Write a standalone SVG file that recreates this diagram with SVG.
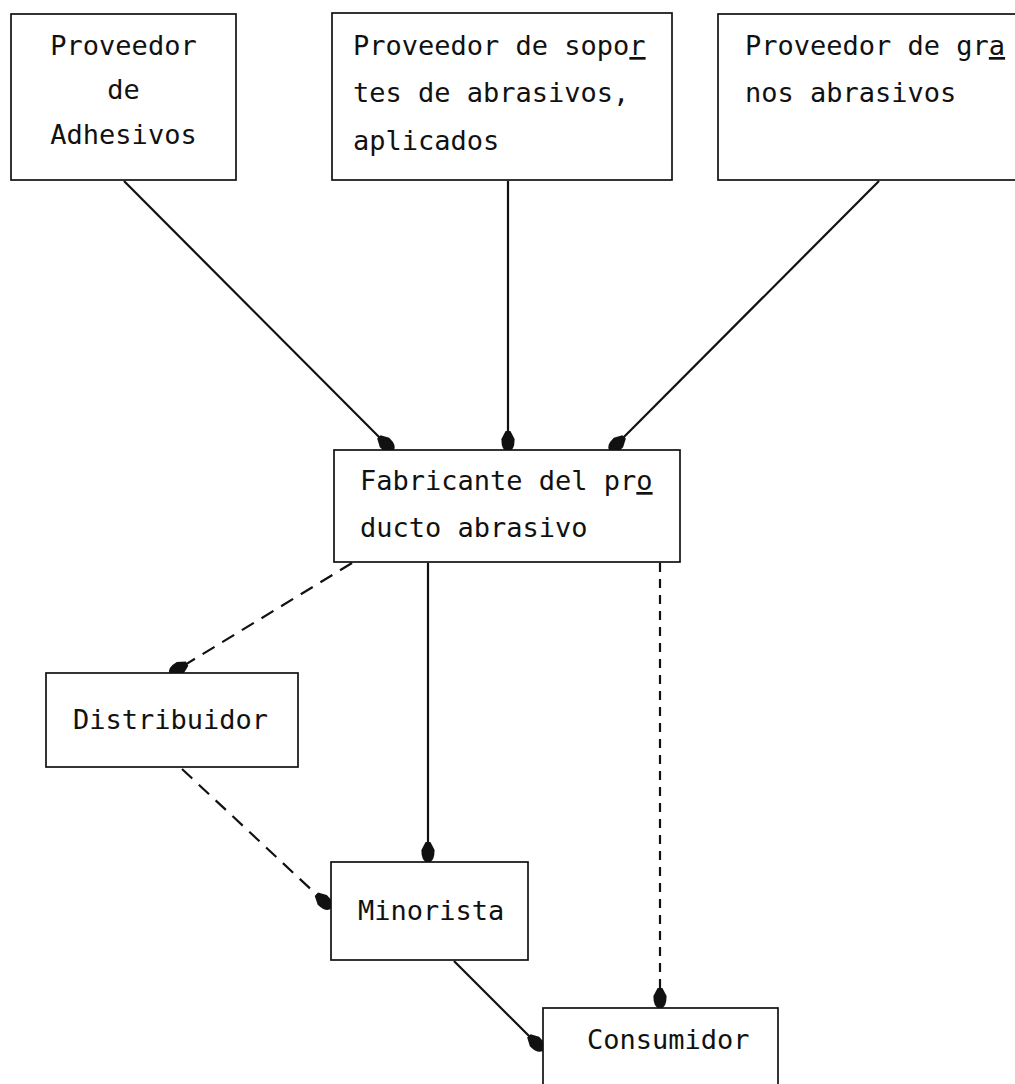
<svg xmlns="http://www.w3.org/2000/svg" width="1015" height="1084" viewBox="0 0 1015 1084">
<style>
.box{fill:#fff;stroke:#111;stroke-width:1.7}
.t{font-family:"DejaVu Sans Mono","Liberation Mono",monospace;font-size:27px;fill:#111}
.c{text-anchor:middle}
.ln{fill:none;stroke:#111;stroke-width:2.2}
.dash{stroke-dasharray:14 9}
.dd{stroke-dasharray:9 7}
.u{text-decoration:underline}
</style>
<defs>
<marker id="ah" viewBox="-22 -8 23 16" refX="0" refY="0" markerWidth="23" markerHeight="16" markerUnits="userSpaceOnUse" orient="auto">
<path d="M-20,-2.4 L-12,-6.6 Q0,-6.8 0.5,0 Q0,6.8 -12,6.6 L-20,2.4 Z" fill="#111"/>
</marker>
</defs>
<rect width="1015" height="1084" fill="#fff"/>
<g id="edges">
<line class="ln" x1="124" y1="181" x2="393" y2="451" marker-end="url(#ah)"/>
<line class="ln" x1="508" y1="181" x2="508" y2="451" marker-end="url(#ah)"/>
<line class="ln" x1="879" y1="181" x2="610" y2="451" marker-end="url(#ah)"/>
<line class="ln dash" x1="352" y1="563" x2="170" y2="674" marker-end="url(#ah)"/>
<line class="ln" x1="428" y1="563" x2="428" y2="862" marker-end="url(#ah)"/>
<line class="ln dd" x1="660" y1="563" x2="660" y2="1008" marker-end="url(#ah)"/>
<line class="ln dash" x1="182" y1="769" x2="331" y2="908" marker-end="url(#ah)"/>
<line class="ln" x1="454" y1="961" x2="543" y2="1050" marker-end="url(#ah)"/>
</g>
<g id="n-adhesivos">
<rect class="box" x="11" y="14" width="225" height="166"/>
<text class="t c" x="123.5" y="55">Proveedor</text>
<text class="t c" x="123.5" y="99">de</text>
<text class="t c" x="123.5" y="144">Adhesivos</text>
</g>
<g id="n-soportes">
<rect class="box" x="332" y="13" width="340" height="167"/>
<text class="t" x="353" y="55">Proveedor de sopo<tspan class="u">r</tspan></text>
<text class="t" x="353" y="102">tes de abrasivos,</text>
<text class="t" x="353" y="150">aplicados</text>
</g>
<g id="n-granos">
<rect class="box" x="718" y="14" width="310" height="166"/>
<text class="t" x="745" y="55">Proveedor de gr<tspan class="u">a</tspan></text>
<text class="t" x="745" y="102">nos abrasivos</text>
</g>
<g id="n-fabricante">
<rect class="box" x="334" y="450" width="346" height="112"/>
<text class="t" x="360" y="490">Fabricante del pr<tspan class="u">o</tspan></text>
<text class="t" x="360" y="537">ducto abrasivo</text>
</g>
<g id="n-distribuidor">
<rect class="box" x="46" y="673" width="252" height="94"/>
<text class="t" x="73" y="729">Distribuidor</text>
</g>
<g id="n-minorista">
<rect class="box" x="331" y="862" width="197" height="98"/>
<text class="t" x="358" y="920">Minorista</text>
</g>
<g id="n-consumidor">
<rect class="box" x="543" y="1008" width="235" height="90"/>
<text class="t" x="587" y="1049">Consumidor</text>
</g>
</svg>
